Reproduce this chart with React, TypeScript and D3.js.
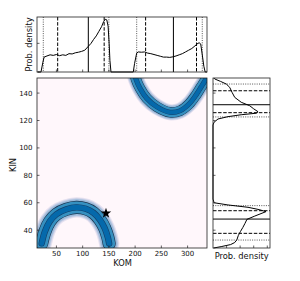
import * as d3 from "d3";

const KOM_TICKS = [50, 100, 150, 200, 250, 300];
const KIN_TICKS = [40, 60, 80, 100, 120, 140];
const KOM_DENS_TICKS = [0, 5];
const KIN_DENS_TICKS = [5, 10, 15, 20];

// marginal densities (x1e-3)
const komDensity: [number, number][] = [
  [15, 0], [20.6, 0], [24, 1.6], [26.5, 2.6], [32, 2.8], [38, 3.0], [44, 2.9], [50, 3.05],
  [56, 2.85], [62, 3.0], [68, 2.9], [74, 3.2], [80, 3.15], [86, 3.35], [92, 3.45],
  [98, 3.6], [104, 3.8], [110, 4.4], [116, 5.0], [121, 5.7], [126, 6.3], [131, 7.1],
  [136, 7.9], [140, 8.8], [143, 9.2], [146, 9.1], [148.5, 8.0], [150.5, 5.0], [152, 2.0],
  [154, 0], [196.5, 0], [199, 1.5], [203, 3.3], [206, 3.5], [212, 3.45], [218, 3.5],
  [224, 3.3], [230, 3.2], [236, 3.05], [242, 2.9], [248, 2.75], [254, 2.6], [260, 2.6],
  [266, 2.55], [272, 2.65], [278, 2.8], [284, 3.0], [290, 3.2], [296, 3.5], [302, 3.8],
  [308, 4.1], [314, 4.55], [318, 4.9], [322, 5.1], [325, 4.9], [328, 3.0], [331, 1.0],
  [333.5, 0], [337, 0],
];

const kinDensity: [number, number][] = [
  [27, 0.2], [28, 3.0], [29.5, 6.5], [31, 8.0], [33, 8.8], [36, 9.3], [39, 10.1],
  [42, 11.0], [45, 11.8], [47.9, 12.5], [50.3, 15.4], [53.5, 19.5], [55, 17.0],
  [56.7, 12.9], [58.4, 5.5], [60, 0.4], [62.7, 0], [116.7, 0], [118.7, 0.37],
  [121.1, 1.84], [122.8, 5.5], [124.2, 10.4], [125.3, 15.95], [126.4, 16.6],
  [128.5, 15], [130.8, 13.5], [133.3, 10.4], [136.9, 8.0], [140.6, 7.0], [144.2, 6.15],
  [146.6, 4.9], [148.5, 2.8], [150.3, 0.63], [151, 0.3],
];

// 2.5 / 16 / 50 / 84 / 97.5 percentiles for each mode
const komQuantiles = [
  [25, 52.4, 110.8, 141, 150],
  [203, 220, 273, 317, 328],
];
const kinQuantiles = [
  [32.8, 37.7, 48.1, 54.2, 57.9],
  [122.6, 125.7, 131.5, 141.7, 146.6],
];

// ridge lines of the two posterior modes (KOM, KIN)
const lowerRidge: [number, number][] = [
  [22, 30.4], [28, 38.9], [37, 46.2], [50, 51.6], [69, 55.2], [88, 56.6],
  [106, 55.6], [121, 52.6], [133, 47.6], [142, 41.5], [148, 34.8], [150.5, 30.2],
];
const upperRidge: [number, number][] = [
  [200.5, 152], [201.7, 150.1], [209.3, 143.5], [222.1, 136.2], [241.1, 130.1],
  [266.5, 126.0], [285.6, 127.1], [302.7, 132.0], [316.1, 138.6], [325.6, 144.4],
  [335.1, 150.3], [336.5, 152],
];

const truth = { kom: 144.5, kin: 52.3 };

const M = { x0: 37, x1: 207, y0: 78, y1: 248 };
const TOP = { y0: 17, y1: 72 };
const RIGHT = { x0: 213, x1: 270 };
const FONT = "DejaVu Sans, sans-serif";
const AX = "#222";
const TL = 2.5;

const lineStyle = (i: number) =>
  i === 2
    ? { dash: undefined, color: "#000", w: 1 }
    : i === 1 || i === 3
    ? { dash: "3.5,1.6", color: "#000", w: 1 }
    : { dash: "1,1.3", color: "#444", w: 0.9 };

const Ridge = ({ pts, path, s }: { pts: [number, number][]; path: d3.Line<[number, number]>; s: number }) => {
  const d = path(pts) || "";
  const layers = [
    { w: 24 * s, c: "#e6e1f0" },
    { w: 21.5 * s, c: "#c3cde4" },
    { w: 19 * s, c: "#9ebbdb" },
    { w: 15.5 * s, c: "#1b3550" },
    { w: 14 * s, c: "#3690c0" },
    { w: 7.5 * s, c: "#14406a" },
    { w: 6 * s, c: "#0569ab" },
  ];
  return (
    <g>
      {layers.map((l, i) => (
        <path key={i} d={d} fill="none" stroke={l.c} strokeWidth={l.w} strokeLinecap="round" strokeLinejoin="round" />
      ))}
    </g>
  );
};

export default function App() {
  const x = d3.scaleLinear().domain([13, 337]).range([M.x0, M.x1]);
  const y = d3.scaleLinear().domain([27, 151]).range([M.y1, M.y0]);
  const yTop = d3.scaleLinear().domain([0, 9.6]).range([TOP.y1, TOP.y0]);
  const xRight = d3.scaleLinear().domain([0, 21]).range([RIGHT.x0, RIGHT.x1]);

  const ridgePath = d3
    .line<[number, number]>()
    .x((d) => x(d[0]))
    .y((d) => y(d[1]))
    .curve(d3.curveCatmullRom);
  const topPath = d3
    .line<[number, number]>()
    .x((d) => x(d[0]))
    .y((d) => yTop(d[1]));
  const rightPath = d3
    .line<[number, number]>()
    .x((d) => xRight(d[1]))
    .y((d) => y(d[0]));

  const star = d3.symbol(d3.symbolStar, 34)() || "";

  return (
    <svg width={300} height={281} style={{ position: "absolute", left: 0, top: 0, background: "#fff" }} fontFamily={FONT}>
      <defs>
        <clipPath id="mainClip">
          <rect x={M.x0} y={M.y0} width={M.x1 - M.x0} height={M.y1 - M.y0} />
        </clipPath>
      </defs>

      {/* main joint panel */}
      <rect x={M.x0} y={M.y0} width={M.x1 - M.x0} height={M.y1 - M.y0} fill="#fff7fb" />
      <g clipPath="url(#mainClip)">
        <Ridge pts={lowerRidge} path={ridgePath} s={0.85} />
        <Ridge pts={upperRidge} path={ridgePath} s={0.68} />
      </g>
      <path d={star} transform={`translate(${x(truth.kom)},${y(truth.kin)})`} fill="#000" />
      <rect x={M.x0} y={M.y0} width={M.x1 - M.x0} height={M.y1 - M.y0} fill="none" stroke={AX} strokeWidth={0.8} />
      {KOM_TICKS.map((t) => (
        <g key={t}>
          <line x1={x(t)} x2={x(t)} y1={M.y1} y2={M.y1 - TL} stroke={AX} strokeWidth={0.7} />
          <text x={x(t)} y={255.5} fontSize={7} textAnchor="middle" fill="#111">
            {t}
          </text>
        </g>
      ))}
      {KIN_TICKS.map((t) => (
        <g key={t}>
          <line x1={M.x0} x2={M.x0 + TL} y1={y(t)} y2={y(t)} stroke={AX} strokeWidth={0.7} />
          <text x={32.5} y={y(t)} dy="0.35em" fontSize={7} textAnchor="end" fill="#111">
            {t}
          </text>
        </g>
      ))}
      <text x={122.5} y={266} fontSize={8.3} textAnchor="middle" fill="#111">
        KOM
      </text>
      <text transform={`translate(15.5,165) rotate(-90)`} fontSize={8.3} textAnchor="middle" fill="#111">
        KIN
      </text>

      {/* top marginal */}
      <rect x={M.x0} y={TOP.y0} width={M.x1 - M.x0} height={TOP.y1 - TOP.y0} fill="#fff" />
      {komQuantiles.map((q, m) =>
        q.map((v, i) => {
          const st = lineStyle(i);
          return (
            <line key={`${m}-${i}`} x1={x(v)} x2={x(v)} y1={TOP.y0} y2={TOP.y1} stroke={st.color} strokeWidth={st.w} strokeDasharray={st.dash} />
          );
        })
      )}
      <path d={topPath(komDensity) || ""} fill="none" stroke="#000" strokeWidth={1} strokeLinejoin="round" />
      <rect x={M.x0} y={TOP.y0} width={M.x1 - M.x0} height={TOP.y1 - TOP.y0} fill="none" stroke={AX} strokeWidth={0.8} />
      {KOM_TICKS.map((t) => (
        <line key={t} x1={x(t)} x2={x(t)} y1={TOP.y1} y2={TOP.y1 - TL} stroke={AX} strokeWidth={0.7} />
      ))}
      {KOM_DENS_TICKS.map((t) => (
        <line key={t} x1={M.x0} x2={M.x0 + TL} y1={yTop(t)} y2={yTop(t)} stroke={AX} strokeWidth={0.7} />
      ))}
      <text transform={`translate(31.5,44.5) rotate(-90)`} fontSize={8.3} textAnchor="middle" fill="#111">
        Prob. density
      </text>

      {/* right marginal */}
      <rect x={RIGHT.x0} y={M.y0} width={RIGHT.x1 - RIGHT.x0} height={M.y1 - M.y0} fill="#fff" />
      {kinQuantiles.map((q, m) =>
        q.map((v, i) => {
          const st = lineStyle(i);
          return (
            <line key={`${m}-${i}`} x1={RIGHT.x0} x2={RIGHT.x1} y1={y(v)} y2={y(v)} stroke={st.color} strokeWidth={st.w} strokeDasharray={st.dash} />
          );
        })
      )}
      <path d={rightPath(kinDensity) || ""} fill="none" stroke="#000" strokeWidth={1} strokeLinejoin="round" />
      <rect x={RIGHT.x0} y={M.y0} width={RIGHT.x1 - RIGHT.x0} height={M.y1 - M.y0} fill="none" stroke={AX} strokeWidth={0.8} />
      {KIN_TICKS.map((t) => (
        <line key={t} x1={RIGHT.x0} x2={RIGHT.x0 + TL} y1={y(t)} y2={y(t)} stroke={AX} strokeWidth={0.7} />
      ))}
      {KIN_DENS_TICKS.map((t) => (
        <line key={t} x1={xRight(t)} x2={xRight(t)} y1={M.y1} y2={M.y1 - TL} stroke={AX} strokeWidth={0.7} />
      ))}
      <text x={241.7} y={259} fontSize={8.3} textAnchor="middle" fill="#111">
        Prob. density
      </text>
    </svg>
  );
}
